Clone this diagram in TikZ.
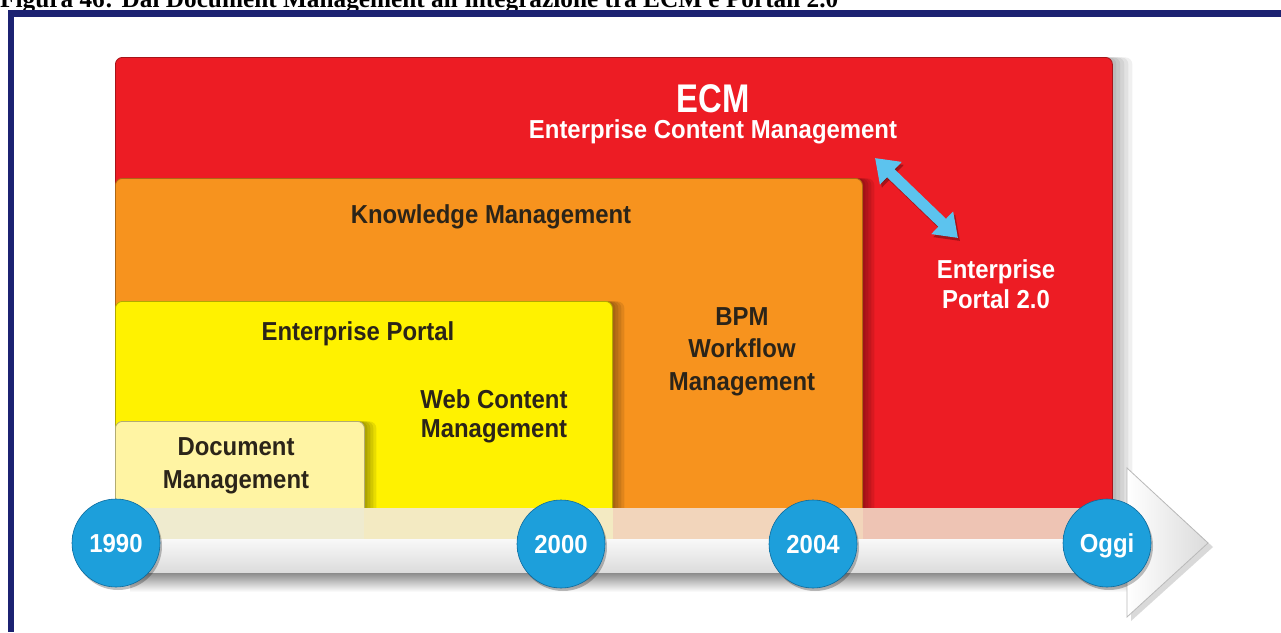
\documentclass[tikz,border=0pt]{standalone}
\usepackage{fontspec}
\setmainfont{Liberation Sans}
\newfontfamily\capfont{Liberation Serif}
\newfontfamily\lblfont{Liberation Sans}[FakeStretch=0.92]
\newfontfamily\bigfont{Liberation Sans}[FakeStretch=0.82]
\usepackage{graphicx}
\usetikzlibrary{arrows.meta,shadows}
\definecolor{framecol}{HTML}{1C2272}
\definecolor{ecmred}{HTML}{ED1C24}
\definecolor{kmorange}{HTML}{F7931E}
\definecolor{epyellow}{HTML}{FFF200}
\definecolor{dmyellow}{HTML}{FFF4A3}
\definecolor{darktext}{HTML}{2B2419}
\definecolor{arrowblue}{HTML}{5CC3EE}
\definecolor{bcin}{HTML}{1D9FDB}
\definecolor{bcmid}{HTML}{148CC6}
\definecolor{bcout}{HTML}{0C6A9C}
\definecolor{bandA}{HTML}{EFEBCF}
\definecolor{bandB}{HTML}{F3EAC2}
\definecolor{bandC}{HTML}{F2D5BB}
\definecolor{bandD}{HTML}{EEC4B4}
\pgfdeclareradialshading{blueball}{\pgfpoint{0bp}{0bp}}{color(0bp)=(bcin); color(32bp)=(bcin); color(44bp)=(bcmid); color(50bp)=(bcout)}
\newcommand\mlines[1]{\begin{tabular}[t]{@{}c@{}}#1\end{tabular}}
\begin{document}
\begin{tikzpicture}[x=1pt,y=-1pt,
  box/.style={anchor=north west, inner sep=0pt, rounded corners=7pt, draw=#1!70!black, line width=0.8pt, fill=#1},
  softshadow/.style={
    general shadow={fill=black,opacity=.09,shadow xshift=3pt},
    general shadow={fill=black,opacity=.09,shadow xshift=6pt},
    general shadow={fill=black,opacity=.09,shadow xshift=9pt},
    general shadow={fill=black,opacity=.09,shadow xshift=12pt}},
  bigshadow/.style={
    general shadow={fill=black,opacity=.06,shadow xshift=4pt},
    general shadow={fill=black,opacity=.06,shadow xshift=8pt},
    general shadow={fill=black,opacity=.06,shadow xshift=12pt},
    general shadow={fill=black,opacity=.06,shadow xshift=16pt},
    general shadow={fill=black,opacity=.06,shadow xshift=20pt}},
  dtext/.style={text=darktext, inner sep=0pt, anchor=base, font=\lblfont\bfseries\fontsize{26}{#1}\selectfont},
  dtext/.default=30,
  wtext/.style={text=white, inner sep=0pt, anchor=base, font=\lblfont\bfseries\fontsize{26}{#1}\selectfont},
  wtext/.default=30,
  ball/.style={circle, minimum size=88pt, inner sep=0pt, shade, shading=blueball, draw=bcout, line width=0.6pt,
    text=white, font=\lblfont\bfseries\fontsize{26}{30}\selectfont, text height=19pt, text depth=0pt,
    general shadow={fill=black, opacity=.25, shadow xshift=2pt, shadow yshift=-3pt}}
]
\useasboundingbox (0,0) rectangle (1281,632);
\fill[white] (0,0) rectangle (1281,632);

% caption (partly cut off at the top, as in the reference)
\node[anchor=base west, inner sep=0pt] (caption) at (0,7)
  {\resizebox{838pt}{!}{\capfont\bfseries Figura 46: Dal Document Management all'integrazione tra ECM e Portali 2.0}};

% frame
\fill[framecol] (8,10) rectangle (1281,17);
\fill[framecol] (8,10) rectangle (14,632);

% nested boxes
\node[box=ecmred, bigshadow, minimum width=997pt, minimum height=483pt] (ecmbox) at (115,57) {};
\node[box=kmorange, softshadow, minimum width=747pt, minimum height=362pt] (kmbox) at (115,178) {};
\node[box=epyellow, softshadow, minimum width=497pt, minimum height=239pt] (epbox) at (115,301) {};
\node[box=dmyellow, softshadow, minimum width=249pt, minimum height=119pt] (dmbox) at (115,421) {};

% timeline bar
\fill[bandA] (125,508) rectangle (364,539);
\fill[bandB] (364,508) rectangle (613,539);
\fill[bandC] (613,508) rectangle (863,539);
\fill[bandD] (863,508) rectangle (1112,539);
\shade[top color=gray!5, bottom color=gray!28] (125,539) rectangle (1128,573);
\shade[top color=black!45, bottom color=white] (130,573) rectangle (1128,592);

% timeline arrow head
\fill[black, opacity=.15] (1131,472) -- (1213,547) -- (1131,621) -- cycle;
\shade[left color=white, right color=gray!28, draw=gray!55, line width=0.8pt]
  (1127,468) -- (1208,543) -- (1127,617) -- cycle;

% year balls
\node[ball] (c1990) at (116,543) {1990};
\node[ball] (c2000) at (561,544) {2000};
\node[ball] (c2004) at (813,544) {2004};
\node[ball] (coggi) at (1107,543) {Oggi};

% labels
\node[wtext, font=\bigfont\bfseries\fontsize{40}{44}\selectfont] (ecm) at (713,112) {ECM};
\node[wtext] (ecmfull) at (713,138) {Enterprise Content Management};
\node[wtext=30] (ep2) at (996,278) {\mlines{Enterprise\\Portal 2.0}};
\node[dtext] (km) at (491,223) {Knowledge Management};
\node[dtext] (ep) at (358,340) {Enterprise Portal};
\node[dtext=29] (wcm) at (494,408) {\mlines{Web Content\\Management}};
\node[dtext=32.5] (bpm) at (742,325) {\mlines{BPM\\Workflow\\Management}};
\node[dtext=33] (dm) at (236,455) {\mlines{Document\\Management}};

% double arrow between ECM and Enterprise Portal 2.0
\coordinate (a1) at (875,158);
\coordinate (a2) at (958,238);
\draw[black, opacity=.3, line width=11pt, {Triangle[width=30pt,length=22pt]}-{Triangle[width=30pt,length=22pt]}]
  ([shift={(2,3)}]a1) -- ([shift={(2,3)}]a2);
\draw[arrowblue, line width=11pt, {Triangle[width=30pt,length=22pt]}-{Triangle[width=30pt,length=22pt]}]
  (a1) -- (a2);
\end{tikzpicture}
\end{document}
